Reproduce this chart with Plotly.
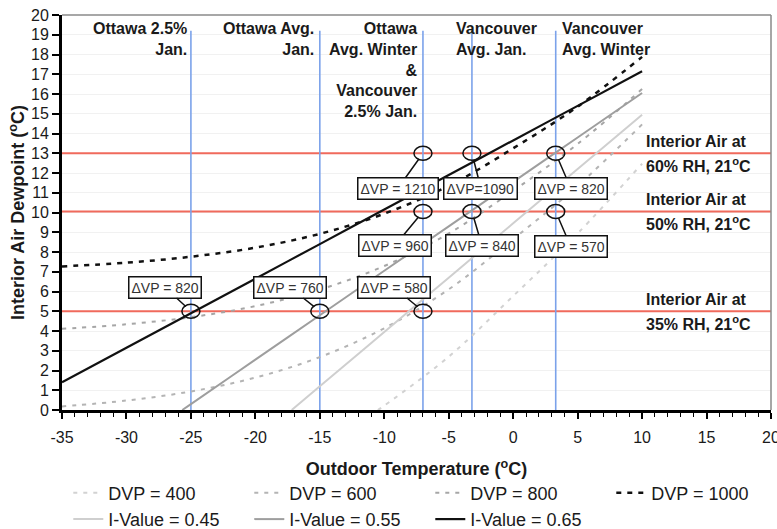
import plotly.graph_objects as go

# ---------------- data ----------------
t_grid = [-35, -30, -25, -20, -15, -10, -5, 0, 5, 10]

dvp1000 = [7.27, 7.46, 7.76, 8.22, 8.92, 9.94, 11.35, 13.25, 15.36, 17.88]
dvp800 = [4.11, 4.34, 4.70, 5.26, 6.10, 7.29, 8.94, 11.10, 13.47, 16.25]
dvp600 = [0.18, 0.48, 0.94, 1.64, 2.68, 4.14, 6.11, 8.65, 11.35, 14.46]
dvp400_t = [-10.5, -10, -5, 0, 5, 10]
dvp400 = [0.0, 0.22, 2.70, 5.77, 8.94, 12.47]

i065_t = [-35, -30, -25, -20, -15, -10, -5, 0, 5, 10]
i065 = [1.40, 3.15, 4.90, 6.65, 8.40, 10.15, 11.90, 13.65, 15.40, 17.15]
i055_t = [-25.67, -25, -20, -15, -10, -5, 0, 5, 10]
i055 = [0.0, 0.30, 2.55, 4.80, 7.05, 9.30, 11.55, 13.80, 16.05]
i045_t = [-17.18, -15, -10, -5, 0, 5, 10]
i045 = [0.0, 1.20, 3.95, 6.70, 9.45, 12.20, 14.95]

x_tickvals = [-35, -30, -25, -20, -15, -10, -5, 0, 5, 10, 15, 20]
x_ticktext = ["-35", "-30", "-25", "-20", "-15", "-10", "-5", "0", "5", "10", "15", "20"]

# climate design temperatures (vertical blue lines)
climate_t = [-25, -15, -7, -3.2, 3.3]
climate_top = 19.2
climate_labels = ["Ottawa 2.5%<br>Jan.", "Ottawa Avg.<br>Jan.",
                  "Ottawa<br>Avg. Winter<br>&<br>Vancouver<br>2.5% Jan.",
                  "Vancouver<br>Avg. Jan.", "Vancouver<br>Avg. Winter"]

# interior RH conditions (horizontal red lines): dewpoint at 21 C
rh_dp = [13.0, 10.05, 5.0]
rh_line1 = ["Interior Air at", "Interior Air at", "Interior Air at"]
rh_line2 = ["60% RH, 21<sup>o</sup>C", "50% RH, 21<sup>o</sup>C", "35% RH, 21<sup>o</sup>C"]

# marked ΔVP points
dvp_pt_t = [-25, -15, -7, -7, -7, -3.2, -3.2, 3.3, 3.3]
dvp_pt_dp = [5.0, 5.0, 5.0, 10.05, 13.0, 13.0, 10.05, 13.0, 10.05]
dvp_pt_lbl = ["ΔVP = 820", "ΔVP = 760", "ΔVP = 580", "ΔVP = 960", "ΔVP = 1210",
              "ΔVP=1090", "ΔVP = 840", "ΔVP = 820", "ΔVP = 570"]

X_MIN, X_MAX = -35, 20

# ---------------- styling ----------------
FONT = "Arial"
box_off = [(-26, -24), (-30, -24), (-29, -24), (-28, 34), (-25, 35),
           (9, 35), (10, 34), (15, 35), (15, 35)]
lbl_anchor = [("right", -2), ("right", -4), ("right", -3), ("left", -18), ("left", 4)]
lbl_align = ["right", "right", "right", "left", "left"]

fig = go.Figure()

# reference lines as traces (above grid, below curves)
for dp in rh_dp:
    fig.add_trace(go.Scatter(x=[X_MIN, X_MAX], y=[dp, dp], mode="lines", showlegend=False,
                             line=dict(color="#f06a5c", width=2.2), hoverinfo="skip",
                             cliponaxis=False))
for t in climate_t:
    fig.add_trace(go.Scatter(x=[t, t], y=[0, climate_top], mode="lines", showlegend=False,
                             line=dict(color="#7ba2ea", width=1.6), hoverinfo="skip"))

curves = [
    ("DVP = 400", dvp400_t, dvp400, "#d2d2d2", 2, "4px,6px"),
    ("DVP = 600", t_grid, dvp600, "#b4b4b4", 2, "4px,6px"),
    ("DVP = 800", t_grid, dvp800, "#a6a6a6", 2, "4px,6px"),
    ("DVP = 1000", t_grid, dvp1000, "#111111", 2.5, "5px,6px"),
    ("I-Value = 0.45", i045_t, i045, "#cfcfcf", 2, "solid"),
    ("I-Value = 0.55", i055_t, i055, "#9e9e9e", 2, "solid"),
    ("I-Value = 0.65", i065_t, i065, "#111111", 2.2, "solid"),
]
for name, xs, ys, col, w, dash in curves:
    fig.add_trace(go.Scatter(x=xs, y=ys, mode="lines", name=name,
                             line=dict(color=col, width=w, dash=dash),
                             line_shape="spline", hoverinfo="skip"))

shapes = []
for t, dp in zip(dvp_pt_t, dvp_pt_dp):
    shapes.append(dict(type="circle", xref="x", yref="y", xsizemode="pixel", ysizemode="pixel",
                       xanchor=t, yanchor=dp, x0=-9, x1=9, y0=-7, y1=7,
                       line=dict(color="#111", width=1.5), layer="above"))
# frame (top/right)
shapes.append(dict(type="line", xref="paper", yref="paper", x0=0, x1=1, y0=1, y1=1,
                   line=dict(color="#8a8a8a", width=1.5)))
shapes.append(dict(type="line", xref="paper", yref="paper", x0=1, x1=1, y0=0, y1=1,
                   line=dict(color="#8a8a8a", width=1.5)))

annotations = []
for t, txt, (anc, sh), al in zip(climate_t, climate_labels, lbl_anchor, lbl_align):
    annotations.append(dict(x=t, xref="x", y=1, yref="paper", yanchor="top", xanchor=anc,
                            xshift=sh, yshift=-3, text=txt, showarrow=False, align=al,
                            font=dict(family=FONT, size=16, color="#1a1a1a", weight="bold")))
for dp, l1, l2 in zip(rh_dp, rh_line1, rh_line2):
    for txt, ys in ((l1, 12), (l2, -11.5)):
        annotations.append(dict(x=0.821, xref="paper", y=dp, yref="y", xanchor="left",
                                yanchor="middle", yshift=ys, text=txt, showarrow=False,
                                font=dict(family=FONT, size=16, color="#1a1a1a", weight="bold")))
for t, dp, txt, (ax, ay) in zip(dvp_pt_t, dvp_pt_dp, dvp_pt_lbl, box_off):
    annotations.append(dict(x=t, y=dp, xref="x", yref="y", text=txt, showarrow=True,
                            ax=ax, ay=ay, arrowhead=0, arrowwidth=1.5, arrowcolor="#111",
                            standoff=7, bordercolor="#111", borderwidth=1.5, borderpad=2,
                            bgcolor="white",
                            font=dict(family=FONT, size=14, color="#333")))

fig.update_layout(
    width=777, height=529,
    margin=dict(l=62, r=6, t=15, b=119, autoexpand=False),
    paper_bgcolor="white", plot_bgcolor="white",
    font=dict(family=FONT, color="#1a1a1a"),
    shapes=shapes, annotations=annotations,
    showlegend=True,
    legend=dict(orientation="h", xref="paper", yref="paper", x=-0.001, xanchor="left",
                y=-0.1633, yanchor="top", entrywidth=129, entrywidthmode="pixels",
                indentation=7, font=dict(family=FONT, size=18, color="#1a1a1a"),
                bgcolor="rgba(0,0,0,0)", traceorder="normal"),
    xaxis=dict(range=[X_MIN, X_MAX], tickmode="array", tickvals=x_tickvals, ticktext=x_ticktext,
               showgrid=False, zeroline=False, ticklabeloverflow="allow",
               showline=True, linecolor="black", linewidth=3,
               ticks="outside", ticklen=6, tickwidth=1.5, tickcolor="black",
               minor=dict(dtick=1, tick0=-35, ticks="outside", ticklen=4, tickwidth=1.2,
                          tickcolor="black"),
               tickfont=dict(family=FONT, size=16, color="#1a1a1a"), ticklabelstandoff=5,
               title=dict(text="Outdoor Temperature (<sup>o</sup>C)", standoff=18,
                          font=dict(family=FONT, size=18, color="#1a1a1a", weight="bold"))),
    yaxis=dict(range=[0, 20], dtick=1, showgrid=True, gridcolor="#f1f1f1", gridwidth=1,
               zeroline=False, showline=True, linecolor="black", linewidth=3,
               ticks="outside", ticklen=7, tickwidth=1.5, tickcolor="black",
               tickfont=dict(family=FONT, size=16, color="#1a1a1a"),
               title=dict(text="Interior Air Dewpoint (<sup>o</sup>C)", standoff=2,
                          font=dict(family=FONT, size=18, color="#1a1a1a", weight="bold"))),
)

fig.write_html("out.html")
